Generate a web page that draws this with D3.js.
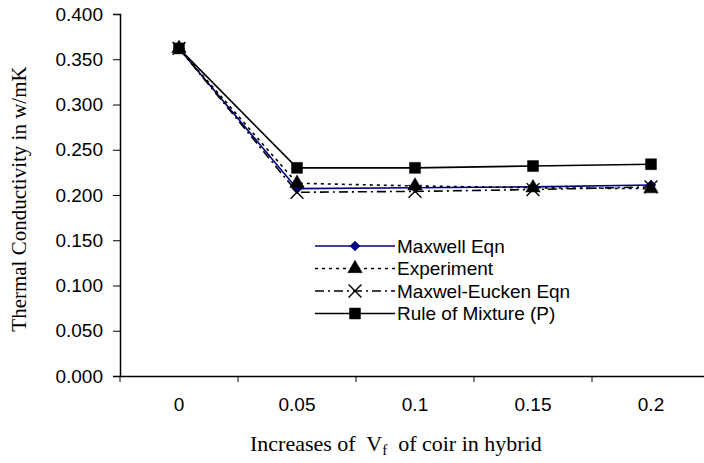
<!DOCTYPE html>
<html>
<head>
<meta charset="utf-8">
<script src="https://cdn.jsdelivr.net/npm/d3@7"></script>
<style>
  body { margin: 0; background: #fff; }
  svg { display: block; }
</style>
</head>
<body>
<div id="canvas"></div>
<script>
// chart data
var categories = ["0", "0.05", "0.1", "0.15", "0.2"];
var yTicks = [0, 0.05, 0.1, 0.15, 0.2, 0.25, 0.3, 0.35, 0.4];

var maxwell      = [0.362, 0.207, 0.208, 0.209, 0.211];
var experiment   = [0.362, 0.213, 0.210, 0.208, 0.207];
var maxwelEucken = [0.362, 0.203, 0.204, 0.206, 0.209];
var ruleMixture  = [0.362, 0.230, 0.230, 0.232, 0.234];

var seriesNames = ["Maxwell Eqn", "Experiment", "Maxwel-Eucken Eqn", "Rule of Mixture (P)"];

var width = 704, height = 463;
var plotLeft = 120, plotTop = 14, plotBottom = 376;
var band = 118;

var svg = d3.select("#canvas")
  .append("svg")
  .attr("width", width)
  .attr("height", height);

var x = d3.scaleBand()
  .domain(categories)
  .range([plotLeft, plotLeft + band * categories.length]);

var y = d3.scaleLinear()
  .domain([0, 0.4])
  .range([plotBottom, plotTop]);

var sans = "Arial, 'Liberation Sans', sans-serif";
var serif = "'Times New Roman', 'Liberation Serif', serif";

// y axis
var yAxis = svg.append("g")
  .attr("transform", "translate(" + plotLeft + ",0)")
  .call(d3.axisLeft(y).tickValues(yTicks).tickFormat(d3.format(".3f")).tickSize(7).tickPadding(10));
yAxis.selectAll("text").style("font-family", sans).style("font-size", "19px").attr("fill", "#000");

// x axis
var xAxis = svg.append("g")
  .attr("transform", "translate(0," + plotBottom + ")")
  .call(d3.axisBottom(x).tickSize(0).tickPadding(22));
xAxis.selectAll("text").style("font-family", sans).style("font-size", "19px").attr("fill", "#000");

// x ticks sit between categories
xAxis.selectAll("line.sep")
  .data(d3.range(categories.length + 1))
  .enter()
    .append("line")
    .attr("class", "sep")
    .attr("x1", function(i) { return plotLeft + band * i; })
    .attr("x2", function(i) { return plotLeft + band * i; })
    .attr("y1", 0)
    .attr("y2", 6)
    .attr("stroke", "#000");

svg.selectAll(".domain").attr("stroke", "#000").attr("stroke-width", 1.5);

// axis titles
svg.append("text")
  .attr("transform", "translate(26," + ((plotTop + plotBottom) / 2 + 4) + ") rotate(-90)")
  .attr("text-anchor", "middle")
  .style("font-family", serif)
  .style("font-size", "21px")
  .text("Thermal Conductivity in w/mK");

var xt = svg.append("text")
  .attr("x", 250)
  .attr("y", 451)
  .style("font-family", serif)
  .style("font-size", "22px")
  .style("white-space", "pre");
xt.append("tspan").text("Increases of  V");
xt.append("tspan").attr("dy", 4).style("font-size", "15px").text("f");
xt.append("tspan").attr("dy", -4).text("  of coir in hybrid");

// series styles
var series = [
  { name: seriesNames[0], values: maxwell,      color: "#000080", dash: null,      symbol: d3.symbolSquare,   size: 50,  rotate: 45, stroke: false },
  { name: seriesNames[1], values: experiment,   color: "#000",    dash: "3,4",     symbol: d3.symbolTriangle, size: 90,  rotate: 0,  stroke: false },
  { name: seriesNames[2], values: maxwelEucken, color: "#000",    dash: "9,4,2,4", symbol: d3.symbolTimes,    size: 110, rotate: 0,  stroke: true },
  { name: seriesNames[3], values: ruleMixture,  color: "#000",    dash: null,      symbol: d3.symbolSquare,   size: 120, rotate: 0,  stroke: false }
];

var line = d3.line()
  .x(function(d, i) { return x(categories[i]) + x.bandwidth() / 2; })
  .y(function(d) { return y(d); });

function drawMarker(g, s) {
  g.append("path")
    .attr("d", d3.symbol().type(s.symbol).size(s.size))
    .attr("transform", "rotate(" + s.rotate + ")")
    .attr("fill", s.stroke ? "none" : s.color)
    .attr("stroke", s.color)
    .attr("stroke-width", s.stroke ? 1.4 : 0.5);
}

series.forEach(function(s) {
  svg.append("path")
    .datum(s.values)
    .attr("d", line)
    .attr("fill", "none")
    .attr("stroke", s.color)
    .attr("stroke-width", 1.6)
    .attr("stroke-dasharray", s.dash);

  svg.selectAll(null)
    .data(s.values)
    .enter()
      .append("g")
      .attr("transform", function(d, i) {
        return "translate(" + (x(categories[i]) + x.bandwidth() / 2) + "," + y(d) + ")";
      })
      .each(function() { drawMarker(d3.select(this), s); });
});

// legend
var legend = svg.append("g").attr("transform", "translate(315,246)");
series.forEach(function(s, i) {
  var row = legend.append("g").attr("transform", "translate(0," + (i * 22.5) + ")");
  row.append("line")
    .attr("x1", 0).attr("x2", 80)
    .attr("stroke", s.color)
    .attr("stroke-width", 1.6)
    .attr("stroke-dasharray", s.dash);
  drawMarker(row.append("g").attr("transform", "translate(40,0)"), s);
  row.append("text")
    .attr("x", 82)
    .attr("dy", "0.35em")
    .style("font-family", sans)
    .style("font-size", "19px")
    .text(s.name);
});
</script>
</body>
</html>
